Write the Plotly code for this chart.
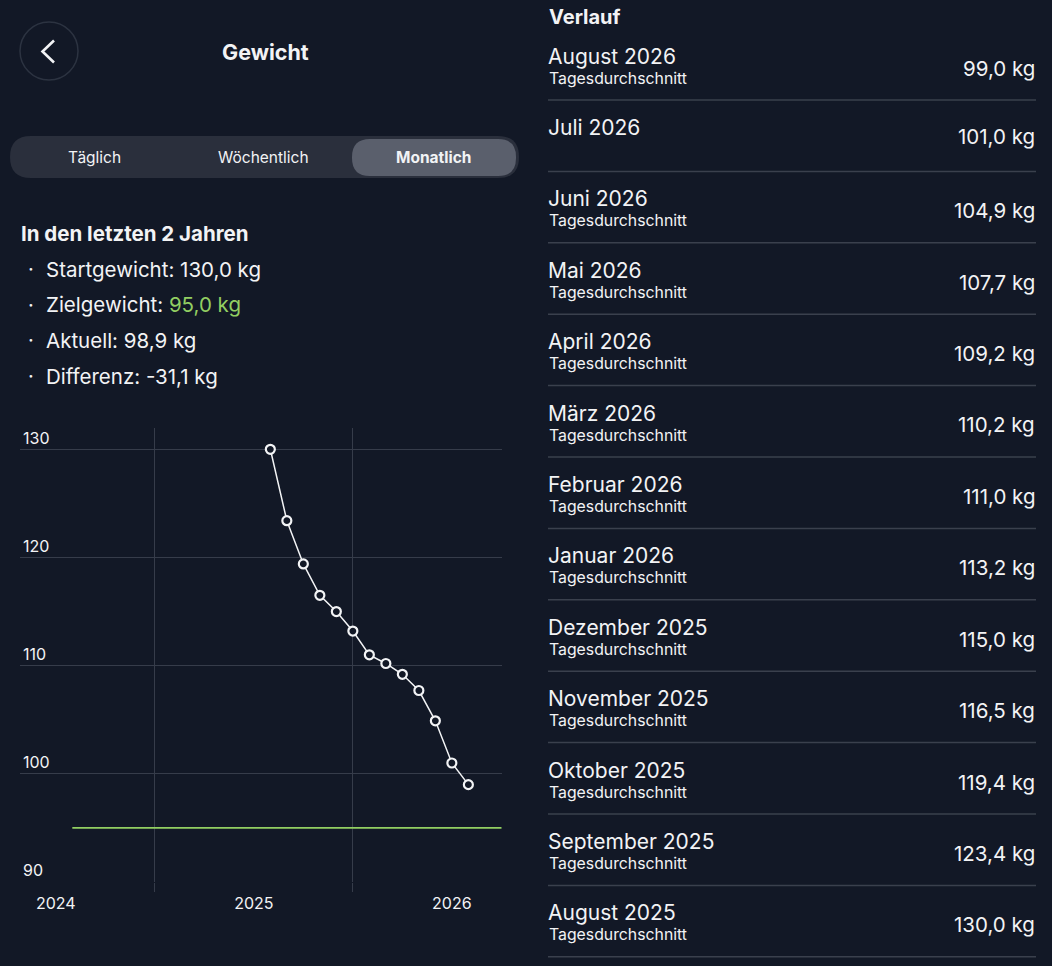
import plotly.graph_objects as go

# ---------------- data ----------------
list_months = ["August 2026", "Juli 2026", "Juni 2026", "Mai 2026", "April 2026", "März 2026",
               "Februar 2026", "Januar 2026", "Dezember 2025", "November 2025", "Oktober 2025",
               "September 2025", "August 2025"]
list_values = [99.0, 101.0, 104.9, 107.7, 109.2, 110.2, 111.0, 113.2, 115.0, 116.5, 119.4, 123.4, 130.0]
list_has_sub = [True, False, True, True, True, True, True, True, True, True, True, True, True]

chart_values = list(reversed(list_values))          # Aug 2025 .. Aug 2026
chart_month_idx = list(range(len(chart_values)))   # month offsets from Aug 2025

goal_weight = 95.0
start_weight = 130.0
current_weight = 98.9
difference = -31.1

year_tick_pos = [-13, -1, 11]
year_tick_text = ["2024", "2025", "2026"]
year_grid_pos = [-7, 5]
y_tick_vals = [90, 100, 110, 120, 130]

# ---------------- style ----------------
W, H = 1052, 966
BG = "#121826"
GRID = "#363c4a"
WHITE = "#f2f3f5"
GREEN = "#92cf62"
FONT = "Inter"

def px(x):
    return x / W

def py(y):
    return 1 - y / H

fig = go.Figure()

# goal line
fig.add_trace(go.Scatter(x=[-12, 14.02], y=[goal_weight, goal_weight], mode="lines",
                         line=dict(color=GREEN, width=1.6), hoverinfo="skip", showlegend=False))
# weight series
fig.add_trace(go.Scatter(x=chart_month_idx, y=chart_values, mode="lines+markers",
                         line=dict(color=WHITE, width=1.5),
                         marker=dict(size=9, color=BG, line=dict(color=WHITE, width=2.2)),
                         showlegend=False))

annotations = []
shapes = []

def ann(text, x, y, size, color=WHITE, xanchor="left", yanchor="middle"):
    annotations.append(dict(text=text, x=px(x), y=py(y), xref="paper", yref="paper",
                            xanchor=xanchor, yanchor=yanchor, showarrow=False,
                            font=dict(family=FONT, size=size, color=color)))

def rrect(x0, y0, x1, y1, r):
    return (f"M {px(x0 + r)},{py(y0)} L {px(x1 - r)},{py(y0)} "
            f"Q {px(x1)},{py(y0)} {px(x1)},{py(y0 + r)} L {px(x1)},{py(y1 - r)} "
            f"Q {px(x1)},{py(y1)} {px(x1 - r)},{py(y1)} L {px(x0 + r)},{py(y1)} "
            f"Q {px(x0)},{py(y1)} {px(x0)},{py(y1 - r)} L {px(x0)},{py(y0 + r)} "
            f"Q {px(x0)},{py(y0)} {px(x0 + r)},{py(y0)} Z")

# back button
shapes.append(dict(type="circle", xref="paper", yref="paper", x0=px(20), x1=px(78),
                   y0=py(80), y1=py(22), line=dict(color="#2c3341", width=1.5)))
shapes.append(dict(type="path", xref="paper", yref="paper",
                   path=f"M {px(54)},{py(40.5)} L {px(42.5)},{py(51.5)} L {px(54)},{py(62.5)}",
                   line=dict(color=WHITE, width=2.6)))
ann("<b>Gewicht</b>", 265, 52, 21.5, xanchor="center")

# segmented control
shapes.append(dict(type="path", xref="paper", yref="paper", path=rrect(10, 136, 519, 178, 21),
                   fillcolor="#2a2f3c", line=dict(width=0)))
shapes.append(dict(type="path", xref="paper", yref="paper", path=rrect(352, 139, 516, 176, 18),
                   fillcolor="#5a5f6c", line=dict(width=0)))
ann("Täglich", 94, 157, 15.5, xanchor="center")
ann("Wöchentlich", 263, 157, 15.5, xanchor="center")
ann("<b>Monatlich</b>", 433, 157, 15.5, xanchor="center")

# summary
ann("<b>In den letzten 2 Jahren</b>", 19, 233, 20.5)
fmt = lambda v: f"{v:.1f}".replace(".", ",")
bullets = [
    f"Startgewicht: {fmt(start_weight)} kg",
    f"Zielgewicht: <span style='color:{GREEN}'>{fmt(goal_weight)} kg</span>",
    f"Aktuell: {fmt(current_weight)} kg",
    f"Differenz: {fmt(difference)} kg",
]
for i, b in enumerate(bullets):
    yy = 269 + 35.7 * i
    ann("·", 26, yy, 20)
    ann(b, 44, yy, 20.5)

# right list
ann("<b>Verlauf</b>", 547, 17, 20)
ROW = 71.4
for k, (m, v, sub) in enumerate(zip(list_months, list_values, list_has_sub)):
    base = ROW * k
    ann(m, 546, 56 + base, 21)
    if sub:
        ann("Tagesdurchschnitt", 547, 78 + base, 15.8)
        ann(f"{fmt(v)} kg", 1037, 68 + base, 20.5, xanchor="right")
    else:
        ann(f"{fmt(v)} kg", 1037, 65 + base, 20.5, xanchor="right")
    shapes.append(dict(type="line", xref="paper", yref="paper", x0=px(548), x1=px(1036),
                       y0=py(100 + base), y1=py(100 + base), line=dict(color="#3a404d", width=1.5)))

fig.update_layout(
    width=W, height=H,
    margin=dict(l=0, r=0, t=0, b=0),
    paper_bgcolor=BG, plot_bgcolor=BG,
    font=dict(family=FONT, color=WHITE),
    annotations=annotations, shapes=shapes,
    xaxis=dict(domain=[px(20), px(501.7)], range=[-15.17, 14.02],
               tickmode="array", tickvals=year_tick_pos, ticktext=year_tick_text,
               showgrid=False, zeroline=False, showline=False, ticks="",
               tickfont=dict(size=16, color=WHITE, family=FONT), ticklabelstandoff=10,
               minor=dict(tickmode="array", tickvals=year_grid_pos, showgrid=True,
                          gridcolor=GRID, gridwidth=1, ticks="outside", ticklen=9,
                          tickcolor=GRID, tickwidth=1)),
    yaxis=dict(domain=[py(882), py(428.3)], range=[90, 131.94],
               tickmode="array", tickvals=y_tick_vals,
               showgrid=True, gridcolor=GRID, gridwidth=1, zeroline=False, showline=False,
               ticks="", ticklabelposition="inside top", ticklabeloverflow="allow",
               tickfont=dict(size=16, color=WHITE, family=FONT)),
    hovermode=False,
)

fig.write_html("out.html", config={"displayModeBar": False, "staticPlot": True},
               post_script="document.body.style.margin='0';document.body.style.background='#121826';")
